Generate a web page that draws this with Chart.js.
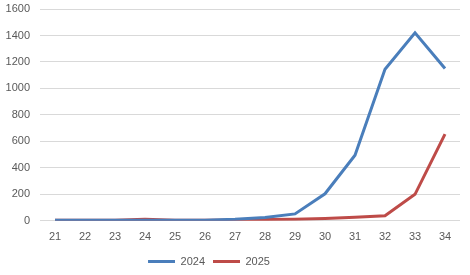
<!DOCTYPE html>
<html><head><meta charset="utf-8">
<script src="https://cdn.jsdelivr.net/npm/chart.js@4/dist/chart.umd.min.js"></script>
<style>html,body{margin:0;padding:0;background:#fff}#wrap{width:470px;height:275px}</style>
</head><body><div id="wrap"><canvas id="c" width="470" height="275"></canvas></div>
<script>
const categories = ['21','22','23','24','25','26','27','28','29','30','31','32','33','34'];
const series2024 = [5, 5, 5, 5, 5, 5, 12, 25, 52, 204, 495, 1145, 1420, 1150];
const series2025 = [5, 5, 5, 12, 5, 5, 6, 10, 12, 18, 26, 38, 200, 655];
const yTicks = [0, 200, 400, 600, 800, 1000, 1200, 1400, 1600];

const txt = '#595959';
const fnt = {family: 'Liberation Sans, Arial, sans-serif', size: 11};
const shiftLegend = {
  id: 'shiftLegend',
  afterLayout(chart) {
    const l = chart.legend;
    if (!l) return;
    l.left -= 21; l.right -= 21;
    l.top += 2; l.bottom += 2;
  }
};
new Chart(document.getElementById('c'), {
  type: 'line',
  data: {labels: categories, datasets: [
    {label: '2024', data: series2024, borderColor: '#4A7EBB', backgroundColor: '#4A7EBB', borderWidth: 3, pointRadius: 0, tension: 0},
    {label: '2025', data: series2025, borderColor: '#BE4B48', backgroundColor: '#BE4B48', borderWidth: 3, pointRadius: 0, tension: 0}
  ]},
  plugins: [shiftLegend],
  options: {
    responsive: false, animation: false,
    layout: {padding: {top: 9, right: 10, bottom: 0, left: 0}},
    plugins: {
      tooltip: {enabled: false},
      legend: {position: 'bottom', labels: {
        boxWidth: 27, boxHeight: 3, color: txt, font: fnt, padding: 8,
        generateLabels: (chart) => Chart.defaults.plugins.legend.labels.generateLabels(chart).map(l => Object.assign(l, {lineWidth: 0}))
      }}
    },
    scales: {
      x: {offset: true, grid: {display: false}, border: {display: false}, ticks: {color: txt, font: fnt, padding: 2, maxRotation: 0}},
      y: {min: 0, max: 1600, afterBuildTicks: s => { s.ticks = yTicks.map(v => ({value: v})); },
          afterFit: s => { s.width = 40; s.paddingTop = 0; },
          grid: {color: '#D9D9D9', drawTicks: false}, border: {display: false},
          ticks: {color: txt, font: fnt, padding: 10, callback: v => String(v)}}
    }
  }
});
</script></body></html>
